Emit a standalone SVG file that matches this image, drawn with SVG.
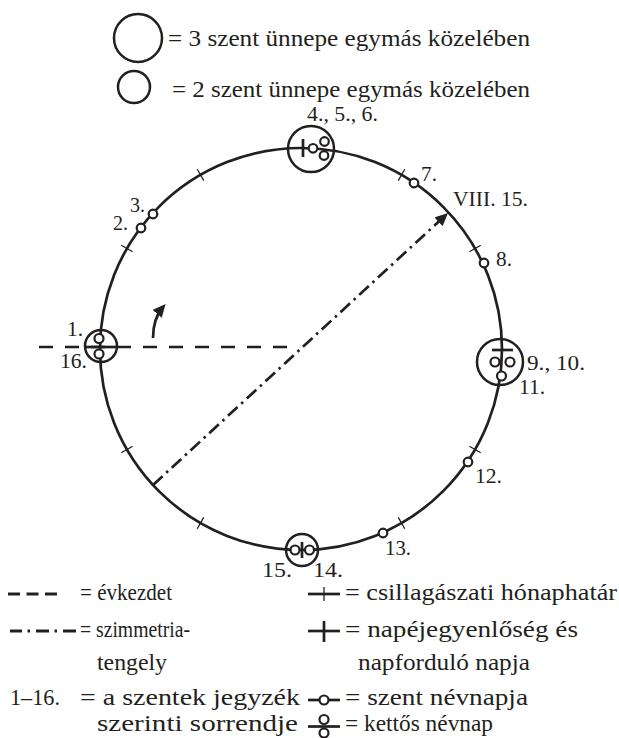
<svg xmlns="http://www.w3.org/2000/svg" width="619" height="738" viewBox="0 0 619 738">
<style>
.t{font-family:"Liberation Serif","Times New Roman",serif;font-size:23px;fill:#231f20}
.l{font-size:21px}
.ln{fill:none;stroke:#231f20;stroke-width:2.7}
.tk{fill:none;stroke:#231f20;stroke-width:1.3}
.nd{fill:none;stroke:#231f20;stroke-width:2.5}
.nv{fill:#fff;stroke:#231f20;stroke-width:2.2}
</style>
<defs>
<marker id="ah" markerUnits="userSpaceOnUse" markerWidth="14" markerHeight="12" refX="9" refY="6" orient="auto">
<path d="M0,0 L13,6 L0,12 Z" fill="#231f20"/>
</marker>
</defs>
<rect width="619" height="738" fill="#fff"/>

<g id="legend-top">
<circle cx="138" cy="38" r="24" class="nd"/>
<text class="t" x="168" y="46" textLength="362" lengthAdjust="spacingAndGlyphs">= 3 szent ünnepe egymás közelében</text>
<circle cx="134" cy="87" r="16" class="nd"/>
<text class="t" x="172" y="97" textLength="358" lengthAdjust="spacingAndGlyphs">= 2 szent ünnepe egymás közelében</text>
</g>

<g id="connectors">
<circle cx="301" cy="349" r="201" class="ln"/>
<g id="ticks">
<line class="tk" x1="469.4" y1="251.75" x2="480.7" y2="245.25"/>
<line class="tk" x1="398.25" y1="180.6" x2="404.75" y2="169.3"/>
<line class="tk" x1="203.75" y1="180.6" x2="197.25" y2="169.3"/>
<line class="tk" x1="132.6" y1="251.75" x2="121.3" y2="245.25"/>
<line class="tk" x1="132.6" y1="446.25" x2="121.3" y2="452.75"/>
<line class="tk" x1="203.75" y1="517.4" x2="197.25" y2="528.7"/>
<line class="tk" x1="398.25" y1="517.4" x2="404.75" y2="528.7"/>
<line class="tk" x1="469.4" y1="446.25" x2="480.7" y2="452.75"/>
</g>
<line id="evkezdet" x1="39" y1="347" x2="298" y2="347" stroke="#231f20" stroke-width="2.7" stroke-dasharray="14 12"/>
<line id="tengely" x1="153" y1="485" x2="445.1" y2="215.7" stroke="#231f20" stroke-width="2.7" stroke-dasharray="13 5 2.5 5" marker-end="url(#ah)"/>
<path id="irany" d="M153,338 C153,325 157,314 163,307" fill="none" stroke="#231f20" stroke-width="2.7" marker-end="url(#ah)"/>
</g>

<g id="node-top">
<circle cx="311" cy="149" r="23" class="nd"/>
<line x1="303" y1="139" x2="303" y2="157" stroke="#231f20" stroke-width="2.7"/>
<circle cx="313" cy="148.3" r="4.3" class="nv"/>
<circle cx="324.5" cy="141.5" r="4.3" class="nv"/>
<circle cx="324" cy="155.5" r="4.3" class="nv"/>
<text class="t l" x="307" y="121" textLength="71" lengthAdjust="spacingAndGlyphs">4., 5., 6.</text>
</g>

<g id="node-left">
<circle cx="101" cy="346" r="16" class="nd"/>
<line x1="86" y1="347" x2="116" y2="347" stroke="#231f20" stroke-width="2.7"/>
<circle cx="99" cy="338.5" r="4.5" class="nv"/>
<circle cx="99" cy="354" r="4.5" class="nv"/>
<text class="t l" x="67" y="336" textLength="16" lengthAdjust="spacingAndGlyphs">1.</text>
<text class="t l" x="60" y="368" textLength="27" lengthAdjust="spacingAndGlyphs">16.</text>
</g>

<g id="node-right">
<circle cx="500" cy="362" r="23" class="nd"/>
<line x1="492" y1="350" x2="513" y2="350" stroke="#231f20" stroke-width="2.7"/>
<circle cx="495" cy="362" r="4.5" class="nv"/>
<circle cx="510" cy="362" r="4.5" class="nv"/>
<circle cx="501.5" cy="376" r="4.5" class="nv"/>
<text class="t l" x="527" y="370" textLength="58" lengthAdjust="spacingAndGlyphs">9., 10.</text>
<text class="t l" x="519" y="394" textLength="26" lengthAdjust="spacingAndGlyphs">11.</text>
</g>

<g id="node-bottom">
<circle cx="302" cy="550" r="16" class="nd"/>
<line x1="302" y1="542" x2="302" y2="558" stroke="#231f20" stroke-width="2.7"/>
<circle cx="295" cy="550" r="4.5" class="nv"/>
<circle cx="309.5" cy="550" r="4.5" class="nv"/>
<text class="t l" x="262" y="577" textLength="30" lengthAdjust="spacingAndGlyphs">15.</text>
<text class="t l" x="313" y="577" textLength="30" lengthAdjust="spacingAndGlyphs">14.</text>
</g>

<g id="n2"><circle cx="141" cy="228" r="4.3" class="nv"/><text class="t l" x="113" y="230" textLength="15" lengthAdjust="spacingAndGlyphs">2.</text></g>
<g id="n3"><circle cx="153" cy="214" r="4.3" class="nv"/><text class="t l" x="130" y="212" textLength="15" lengthAdjust="spacingAndGlyphs">3.</text></g>
<g id="n7"><circle cx="414" cy="183" r="4.3" class="nv"/><text class="t l" x="421" y="181" textLength="16" lengthAdjust="spacingAndGlyphs">7.</text></g>
<g id="n8"><circle cx="484" cy="263" r="4.3" class="nv"/><text class="t l" x="496" y="266" textLength="16" lengthAdjust="spacingAndGlyphs">8.</text></g>
<g id="n12"><circle cx="468" cy="462" r="4.3" class="nv"/><text class="t l" x="475" y="483" textLength="27" lengthAdjust="spacingAndGlyphs">12.</text></g>
<g id="n13"><circle cx="383" cy="533" r="4.3" class="nv"/><text class="t l" x="385" y="555" textLength="26" lengthAdjust="spacingAndGlyphs">13.</text></g>
<g id="viii15"><text class="t l" x="453" y="206" textLength="75" lengthAdjust="spacingAndGlyphs">VIII. 15.</text></g>

<g id="legend-bottom">
<g stroke="#231f20" stroke-width="3">
<line x1="8" y1="594" x2="20" y2="594"/>
<line x1="26.5" y1="594" x2="38.5" y2="594"/>
<line x1="45" y1="594" x2="57" y2="594"/>
<line x1="10" y1="631" x2="22" y2="631"/>
<line x1="27.5" y1="631" x2="30" y2="631"/>
<line x1="36" y1="631" x2="49" y2="631"/>
<line x1="54.5" y1="631" x2="57" y2="631"/>
<line x1="63" y1="631" x2="76" y2="631"/>
</g>
<text class="t" x="80" y="600" textLength="92" lengthAdjust="spacingAndGlyphs">= évkezdet</text>
<text class="t" x="80" y="637" textLength="110" lengthAdjust="spacingAndGlyphs">= szimmetria-</text>
<text class="t" x="97" y="670" textLength="70" lengthAdjust="spacingAndGlyphs">tengely</text>
<text class="t" x="10" y="705" textLength="50" lengthAdjust="spacingAndGlyphs">1–16.</text>
<text class="t" x="80" y="705" textLength="220" lengthAdjust="spacingAndGlyphs">= a szentek jegyzék</text>
<text class="t" x="97" y="731" textLength="201" lengthAdjust="spacingAndGlyphs">szerinti sorrendje</text>

<line x1="308" y1="594" x2="340" y2="594" stroke="#231f20" stroke-width="2.7"/>
<line x1="324" y1="587" x2="324" y2="601" class="tk"/>
<text class="t" x="345" y="600" textLength="272" lengthAdjust="spacingAndGlyphs">= csillagászati hónaphatár</text>

<line x1="308" y1="631" x2="340" y2="631" stroke="#231f20" stroke-width="2.7"/>
<line x1="324" y1="621" x2="324" y2="642" stroke="#231f20" stroke-width="2.7"/>
<text class="t" x="345" y="637" textLength="233" lengthAdjust="spacingAndGlyphs">= napéjegyenlőség és</text>
<text class="t" x="358" y="670" textLength="172" lengthAdjust="spacingAndGlyphs">napforduló napja</text>

<line x1="308" y1="700" x2="340" y2="700" stroke="#231f20" stroke-width="2.7"/>
<circle cx="324" cy="700" r="4.5" class="nv"/>
<text class="t" x="345" y="705" textLength="183" lengthAdjust="spacingAndGlyphs">= szent névnapja</text>

<line x1="308" y1="726.5" x2="340" y2="726.5" stroke="#231f20" stroke-width="2.7"/>
<circle cx="324" cy="719.5" r="4.5" class="nv"/>
<circle cx="324" cy="733" r="4.5" class="nv"/>
<text class="t" x="345" y="731" textLength="148" lengthAdjust="spacingAndGlyphs">= kettős névnap</text>
</g>
</svg>
